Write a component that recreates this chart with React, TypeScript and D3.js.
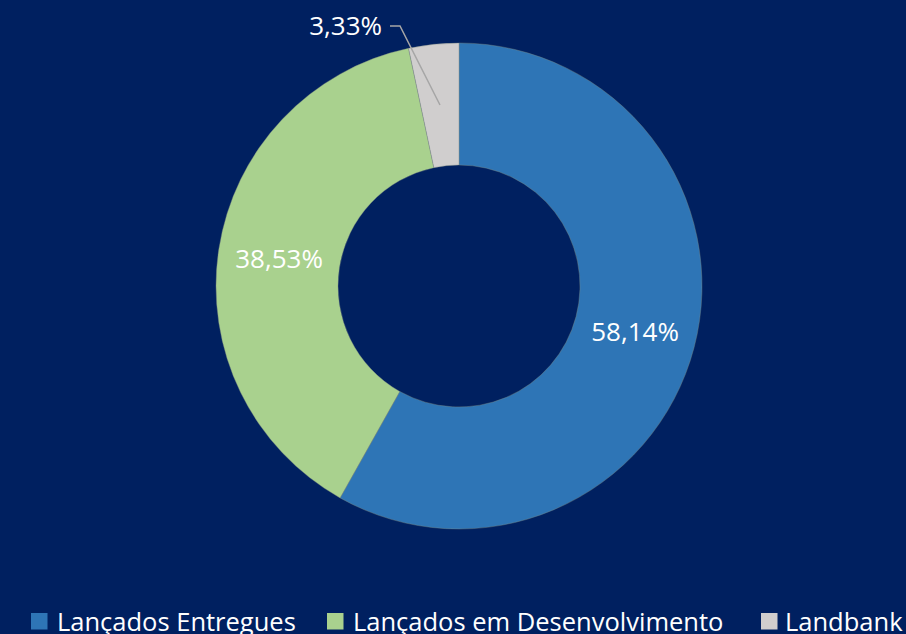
import React from "react";
import * as d3 from "d3";

const categories = ["Lançados Entregues", "Lançados em Desenvolvimento", "Landbank"];
const values = [58.14, 38.53, 3.33];
const labels = ["58,14%", "38,53%", "3,33%"];
const colors = ["#2E75B6", "#A9D18E", "#D0CECE"];

const W = 906;
const H = 634;
const cx = 459;
const cy = 286;
const outerR = 243;
const innerR = 121;
const FONT = "'Open Sans', 'Noto Sans', sans-serif";

export default function App() {
  const pie = d3.pie<number>().sort(null).value((d) => d)(values);
  const arc = d3.arc<d3.PieArcDatum<number>>().innerRadius(innerR).outerRadius(outerR);
  const legendSq = [31, 327, 761];
  const legendTx = [57, 353, 785];

  return (
    <svg width={W} height={H} style={{ position: "absolute", left: 0, top: 0, display: "block" }}>
      <rect width={W} height={H} fill="#002060" />
      <g transform={`translate(${cx},${cy})`}>
        {pie.map((p, i) => (
          <path key={i} d={arc(p) || ""} fill={colors[i]} stroke="#7f8a80" strokeWidth={0.4} />
        ))}
        {pie.map((p, i) => {
          const [x, y] = arc.centroid(p);
          if (i === 2) {
            return (
              <g key={i}>
                <polyline
                  points={`${x},${y} ${400 - cx},${26 - cy} ${390 - cx},${26 - cy}`}
                  fill="none"
                  stroke="#A6A6A6"
                  strokeWidth={1.5}
                />
                <text x={382 - cx} y={26 - cy} dy="0.35em" textAnchor="end" fill="#fff" fontFamily={FONT} fontSize={26}>
                  {labels[i]}
                </text>
              </g>
            );
          }
          return (
            <text key={i} x={x} y={y} dy="0.35em" textAnchor="middle" fill="#fff" fontFamily={FONT} fontSize={26}>
              {labels[i]}
            </text>
          );
        })}
      </g>
      {categories.map((c, i) => (
        <g key={c}>
          <rect x={legendSq[i]} y={613} width={16.5} height={16.5} fill={colors[i]} />
          <text x={legendTx[i]} y={631} fill="#fff" fontFamily={FONT} fontSize={25.5}>
            {c}
          </text>
        </g>
      ))}
    </svg>
  );
}
